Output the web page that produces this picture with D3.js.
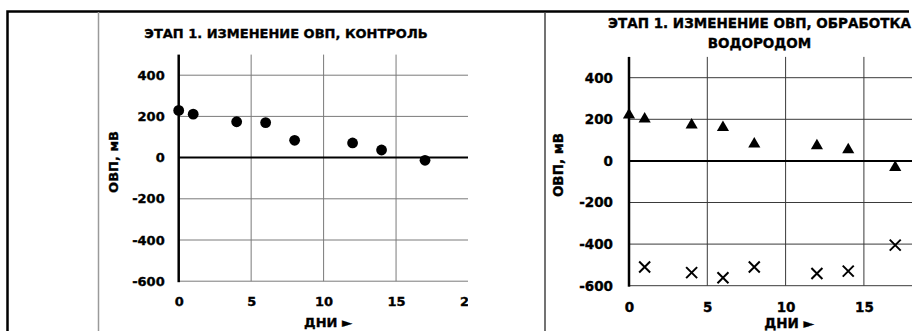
<!DOCTYPE html>
<html>
<head>
<meta charset="utf-8">
<script src="https://cdn.jsdelivr.net/npm/d3@7"></script>
<style>
  body { margin: 0; background: #fff; }
  svg { display: block; }
  text { font-family: "DejaVu Sans", sans-serif; font-weight: bold; fill: #000; stroke: #000; stroke-width: 0.35px; }
</style>
</head>
<body>
<div id="chart"></div>
<script>
// data
const xTicks = [0, 5, 10, 15, 20];
const yTicks = [-600, -400, -200, 0, 200, 400];

const controlDays = [0, 1, 4, 6, 8, 12, 14, 17];
const controlOrp = [229, 211, 174, 170, 84, 71, 37, -13];

const h2Days = [0, 1, 4, 6, 8, 12, 14, 17];
const h2Orp = [228, 209, 180, 168, 88, 80, 61, -24];

const h2CrossDays = [1, 4, 6, 8, 12, 14, 17];
const h2CrossOrp = [-510, -537, -562, -510, -541, -530, -405];

const W = 912, H = 331;

let svg = d3.select('#chart').append('svg')
    .attr('width', W)
    .attr('height', H);

// outer frame
svg.append('path')
    .attr('d', 'M7.5,331V11.5H909')
    .attr('fill', 'none')
    .attr('stroke', '#000')
    .attr('stroke-width', 2.5);
svg.append('line')
    .attr('x1', 98.5).attr('x2', 98.5).attr('y1', 12).attr('y2', H)
    .attr('stroke', '#9a9a9a').attr('stroke-width', 1.5);
svg.append('line')
    .attr('x1', 545).attr('x2', 545).attr('y1', 12).attr('y2', H)
    .attr('stroke', '#444').attr('stroke-width', 1.5);

svg.append('defs').append('clipPath').attr('id', 'clipLeft')
    .append('rect').attr('x', 99).attr('y', 12).attr('width', 369).attr('height', H);

function panel(opts) {
    let g = svg.append('g');
    if (opts.clip) g.attr('clip-path', 'url(#' + opts.clip + ')');

    let x = d3.scaleLinear().domain([0, 20]).range(opts.xRange);
    let y = d3.scaleLinear().domain([-600, 500]).range(opts.yRange);

    // vertical grid
    g.selectAll('.vgrid').data(xTicks.slice(1)).enter()
        .append('line')
        .attr('x1', d => x(d)).attr('x2', d => x(d))
        .attr('y1', y(500)).attr('y2', y(-600))
        .attr('stroke', opts.gridColor).attr('stroke-width', 1);

    // horizontal grid
    g.selectAll('.hgrid').data(yTicks.filter(d => d !== 0)).enter()
        .append('line')
        .attr('x1', x(0)).attr('x2', x(20))
        .attr('y1', d => y(d)).attr('y2', d => y(d))
        .attr('stroke', opts.gridColor).attr('stroke-width', 1);

    // zero line
    g.append('line')
        .attr('x1', x(0)).attr('x2', x(20))
        .attr('y1', y(0)).attr('y2', y(0))
        .attr('stroke', '#000').attr('stroke-width', 2);

    // y axis line
    g.append('line')
        .attr('x1', x(0)).attr('x2', x(0))
        .attr('y1', y(500)).attr('y2', y(-600) + 1)
        .attr('stroke', '#000').attr('stroke-width', 2.5);

    let yAxis = g.append('g')
        .attr('transform', 'translate(' + x(0) + ',0)')
        .call(d3.axisLeft(y).tickValues(yTicks).tickSize(0).tickPadding(opts.yPad)
            .tickFormat(d => String(d)));
    yAxis.select('.domain').remove();

    // only ticks that fall on the visible part of the panel
    let visibleX = xTicks.filter(d => x(d) <= opts.xMax);
    let xAxis = g.append('g')
        .attr('transform', 'translate(0,' + y(-600) + ')')
        .call(d3.axisBottom(x).tickValues(visibleX).tickSize(0).tickPadding(opts.xPad)
            .tickFormat(d => String(d)));
    xAxis.select('.domain').remove();

    g.selectAll('.tick text')
        .attr('font-family', '"DejaVu Sans", sans-serif')
        .attr('font-weight', 'bold')
        .attr('font-size', opts.fs)
        .attr('fill', '#000');

    // titles
    opts.title.forEach((t, i) => {
        g.append('text')
            .attr('x', opts.titleX)
            .attr('y', opts.titleY + i * 20)
            .attr('text-anchor', 'middle')
            .attr('font-size', opts.titleFs)
            .text(t);
    });

    g.append('text')
        .attr('transform', 'translate(' + opts.yTitleX + ',' + opts.yTitleY + ') rotate(-90)')
        .attr('text-anchor', 'middle')
        .attr('font-size', opts.fs)
        .text('ОВП, мВ');

    g.append('text')
        .attr('x', opts.xTitleX)
        .attr('y', opts.xTitleY)
        .attr('text-anchor', 'middle')
        .attr('font-size', opts.fs)
        .text('ДНИ ►');

    return { g, x, y };
}

let left = panel({
    clip: 'clipLeft',
    xRange: [178.7, 468.5],
    xMax: 470,
    yRange: [281.2, 54.6],
    gridColor: '#7a7a7a',
    fs: 13, titleFs: 13,
    yPad: 14, xPad: 16,
    title: ['ЭТАП 1. ИЗМЕНЕНИЕ ОВП, КОНТРОЛЬ'],
    titleX: 286, titleY: 38,
    yTitleX: 117.5, yTitleY: 162,
    xTitleX: 328, xTitleY: 327
});

left.g.selectAll('.dot').data(controlDays).enter()
    .append('circle')
    .attr('cx', d => left.x(d))
    .attr('cy', (d, i) => left.y(controlOrp[i]))
    .attr('r', 5.4)
    .attr('fill', '#000');

let right = panel({
    clip: null,
    xRange: [629, 942.2],
    xMax: W,
    yRange: [285.7, 56.9],
    gridColor: '#3a3a3a',
    fs: 13.5, titleFs: 13.5,
    yPad: 16, xPad: 17,
    title: ['ЭТАП 1. ИЗМЕНЕНИЕ ОВП, ОБРАБОТКА', 'ВОДОРОДОМ'],
    titleX: 759.5, titleY: 28,
    yTitleX: 562.5, yTitleY: 165,
    xTitleX: 789, xTitleY: 328
});

let tri = d3.symbol().type(d3.symbolTriangle).size(64);
right.g.selectAll('.tri').data(h2Days).enter()
    .append('path')
    .attr('d', tri)
    .attr('transform', (d, i) => 'translate(' + right.x(d) + ',' + (right.y(h2Orp[i]) + 1.5) + ')')
    .attr('fill', '#000');

right.g.selectAll('.cross').data(h2CrossDays).enter()
    .append('path')
    .attr('d', 'M-5.5,-5.5L5.5,5.5M5.5,-5.5L-5.5,5.5')
    .attr('transform', (d, i) => 'translate(' + right.x(d) + ',' + right.y(h2CrossOrp[i]) + ')')
    .attr('stroke', '#000')
    .attr('stroke-width', 2)
    .attr('fill', 'none');
</script>
</body>
</html>
